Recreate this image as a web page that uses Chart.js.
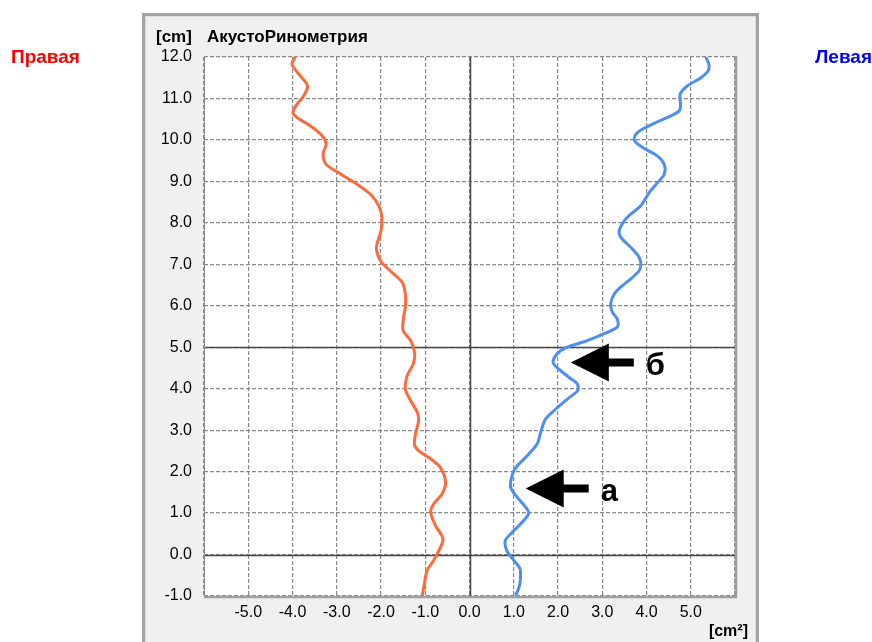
<!DOCTYPE html>
<html>
<head>
<meta charset="utf-8">
<script src="https://cdn.jsdelivr.net/npm/chart.js@4/dist/chart.umd.min.js"></script>
<style>
	html, body { margin: 0; padding: 0; background: #fff; }
	#wrap { width: 872px; height: 642px; }
</style>
</head>
<body>
<div id="wrap"><canvas id="rhino" width="872" height="642"></canvas></div>
<script>
// depth along the nasal cavity [cm] and cross-section area [cm2], right side drawn negative
const rightDepth = [ -0.99, -0.71, -0.39, -0.14, 0.10, 0.38, 0.70, 1.02, 1.22, 1.46, 1.74, 2.10, 2.31, 2.47, 2.63, 2.91, 3.23, 3.43, 3.71, 3.99, 4.31, 4.60, 4.87, 5.16, 5.40, 5.72, 5.96, 6.28, 6.56, 6.84, 7.08, 7.33, 7.49, 7.81, 8.13, 8.41, 8.69, 8.93, 9.21, 9.41, 9.66, 9.90, 10.10, 10.34, 10.54, 10.66, 10.86, 11.06, 11.30, 11.54, 11.82, 12.00 ];
const rightArea = [ -1.07, -1.02, -0.96, -0.81, -0.69, -0.60, -0.77, -0.88, -0.81, -0.62, -0.54, -0.66, -0.88, -1.11, -1.24, -1.22, -1.15, -1.18, -1.33, -1.45, -1.41, -1.27, -1.24, -1.33, -1.50, -1.49, -1.45, -1.45, -1.52, -1.79, -2.01, -2.10, -2.09, -2.00, -1.98, -2.05, -2.24, -2.54, -2.96, -3.24, -3.31, -3.24, -3.33, -3.60, -3.90, -3.99, -3.90, -3.75, -3.66, -3.82, -4.01, -3.94 ];

const leftDepth = [ -0.99, -0.79, -0.59, -0.34, -0.10, 0.10, 0.34, 0.54, 0.78, 1.00, 1.14, 1.38, 1.62, 1.94, 2.14, 2.39, 2.67, 2.99, 3.27, 3.51, 3.75, 3.95, 4.11, 4.27, 4.47, 4.63, 4.84, 5.00, 5.16, 5.33, 5.49, 5.68, 5.84, 6.04, 6.28, 6.48, 6.68, 6.88, 7.13, 7.37, 7.61, 7.77, 7.97, 8.17, 8.41, 8.73, 8.97, 9.17, 9.41, 9.61, 9.82, 9.98, 10.14, 10.26, 10.42, 10.58, 10.70, 10.82, 11.10, 11.30, 11.50, 11.66, 11.82, 12.00 ];
const leftArea = [ 1.04, 1.12, 1.15, 1.14, 0.97, 0.84, 0.81, 0.97, 1.19, 1.34, 1.27, 1.08, 0.93, 0.97, 1.08, 1.31, 1.53, 1.62, 1.72, 1.95, 2.21, 2.44, 2.44, 2.25, 2.02, 1.89, 1.98, 2.21, 2.66, 3.04, 3.34, 3.34, 3.23, 3.19, 3.27, 3.45, 3.68, 3.85, 3.85, 3.68, 3.45, 3.38, 3.45, 3.60, 3.87, 4.06, 4.25, 4.40, 4.40, 4.25, 3.91, 3.73, 3.76, 3.91, 4.21, 4.55, 4.74, 4.77, 4.76, 4.92, 5.23, 5.39, 5.41, 5.34 ];

// marked constrictions (arrow tips in data units)
const markLabels = [ 'б', 'а' ];
const markArea = [ 2.29, 1.27 ];
const markDepth = [ 4.63, 1.59 ];

// axis limits and the lines drawn solid
const xMin = -6, xMax = 6;
const yMin = -1, yMax = 12;
const solidX = [ 0 ];
const solidY = [ 0, 5 ];

const sideLeftText = 'Правая';
const sideRightText = 'Левая';
const titleUnit = '[cm]';
const titleText = 'АкустоРинометрия';
const xUnit = '[cm²]';

const FONT = '"Liberation Sans", Arial, sans-serif';

function zip( xs, ys ) {
	return xs.map( ( x, i ) => ( { x: x, y: ys[ i ] } ) );
}

const panelPlugin = {
	id: 'panel',
	beforeDraw( chart ) {
		const c = chart.ctx;
		const a = chart.chartArea;
		c.save();
		c.fillStyle = '#ffffff';
		c.fillRect( 0, 0, chart.width, chart.height );
		// grey dialog panel
		c.fillStyle = '#f0f0f0';
		c.fillRect( 142, 13, 617, 640 );
		c.strokeStyle = '#a3a3a3';
		c.lineWidth = 3;
		c.strokeRect( 143.5, 14.5, 614, 640 );
		c.strokeStyle = '#dcdcdc';
		c.lineWidth = 1;
		c.strokeRect( 145.5, 16.5, 610, 640 );
		// plot background
		c.fillStyle = '#ffffff';
		c.fillRect( a.left, a.top, a.right - a.left, a.bottom - a.top );
		c.restore();
	},
	beforeDatasetsDraw( chart ) {
		const c = chart.ctx;
		const a = chart.chartArea;
		const sx = chart.scales.x;
		const sy = chart.scales.y;
		c.save();
		c.strokeStyle = '#464646';
		c.lineWidth = 1.5;
		solidX.forEach( v => {
			const px = Math.round( sx.getPixelForValue( v ) ) + 0.5;
			c.beginPath();
			c.moveTo( px, a.top );
			c.lineTo( px, a.bottom );
			c.stroke();
		} );
		solidY.forEach( v => {
			const py = Math.round( sy.getPixelForValue( v ) ) + 0.5;
			c.beginPath();
			c.moveTo( a.left, py );
			c.lineTo( a.right, py );
			c.stroke();
		} );
		// frame of the plot
		c.strokeStyle = '#8c8c8c';
		c.lineWidth = 1;
		c.beginPath();
		c.moveTo( a.left + 0.5, a.top );
		c.lineTo( a.left + 0.5, a.bottom );
		c.stroke();
		c.strokeStyle = '#9f9f9f';
		c.lineWidth = 2.5;
		c.beginPath();
		c.moveTo( a.right + 1, a.top - 1 );
		c.lineTo( a.right + 1, a.bottom + 1 );
		c.lineTo( a.left, a.bottom + 1 );
		c.stroke();
		c.restore();
	},
	afterDraw( chart ) {
		const c = chart.ctx;
		const sx = chart.scales.x;
		const sy = chart.scales.y;
		c.save();
		c.fillStyle = '#000';
		c.textBaseline = 'middle';
		c.font = 'bold 17px ' + FONT;
		c.fillText( titleUnit, 156, 37 );
		c.fillText( titleText, 207, 37 );
		c.font = 'bold 16px ' + FONT;
		c.textAlign = 'right';
		c.fillText( xUnit, 748, 632 );

		c.font = 'bold 19px ' + FONT;
		c.textAlign = 'left';
		c.fillStyle = '#ff0000';
		c.fillText( sideLeftText, 11, 58 );
		c.fillStyle = '#0000ff';
		c.textAlign = 'right';
		c.fillText( sideRightText, 872, 58 );

		// arrows pointing at the constrictions
		c.fillStyle = '#000';
		c.textAlign = 'left';
		c.textBaseline = 'alphabetic';
		c.font = 'bold 31px ' + FONT;
		markLabels.forEach( ( lbl, i ) => {
			const tx = sx.getPixelForValue( markArea[ i ] );
			const ty = sy.getPixelForValue( markDepth[ i ] );
			c.beginPath();
			c.moveTo( tx, ty );
			c.lineTo( tx + 38, ty - 19 );
			c.lineTo( tx + 38, ty - 4 );
			c.lineTo( tx + 63, ty - 4 );
			c.lineTo( tx + 63, ty + 4 );
			c.lineTo( tx + 38, ty + 4 );
			c.lineTo( tx + 38, ty + 19 );
			c.closePath();
			c.fill();
			c.fillText( lbl, tx + 75, ty + 12 );
		} );
		c.restore();
	},
};

const gridOpts = {
	color: '#8a8a8a',
	lineWidth: 1.2,
	drawTicks: false,
};

new Chart( document.getElementById( 'rhino' ), {
	type: 'scatter',
	data: {
		datasets: [
			{
				label: sideLeftText,
				data: zip( rightArea, rightDepth ),
				showLine: true,
				borderColor: '#ff6a3a',
				borderWidth: 3,
				pointRadius: 0,
				tension: 0.3,
			},
			{
				label: sideRightText,
				data: zip( leftArea, leftDepth ),
				showLine: true,
				borderColor: '#4d8ff0',
				borderWidth: 3,
				pointRadius: 0,
				tension: 0.3,
			},
		],
	},
	options: {
		responsive: false,
		animation: false,
		devicePixelRatio: 1,
		layout: { padding: { left: 150, top: 57, right: 137, bottom: 16 } },
		plugins: {
			legend: { display: false },
			tooltip: { enabled: false },
		},
		scales: {
			x: {
				type: 'linear',
				min: xMin,
				max: xMax,
				afterFit: scale => { scale.height = 30; },
				border: { display: false, dash: [ 4, 2 ] },
				grid: gridOpts,
				ticks: {
					stepSize: 1,
					padding: 7,
					color: '#000',
					font: { family: FONT, size: 16 },
					maxRotation: 0,
					callback: v => ( v === xMin || v === xMax ? '' : v.toFixed( 1 ) ),
				},
			},
			y: {
				type: 'linear',
				min: yMin,
				max: yMax,
				afterFit: scale => { scale.width = 54; },
				border: { display: false, dash: [ 4, 2 ] },
				grid: gridOpts,
				ticks: {
					stepSize: 1,
					padding: 12,
					color: '#000',
					font: { family: FONT, size: 16 },
					callback: v => v.toFixed( 1 ),
				},
			},
		},
	},
	plugins: [ panelPlugin ],
} );
</script>
</body>
</html>
